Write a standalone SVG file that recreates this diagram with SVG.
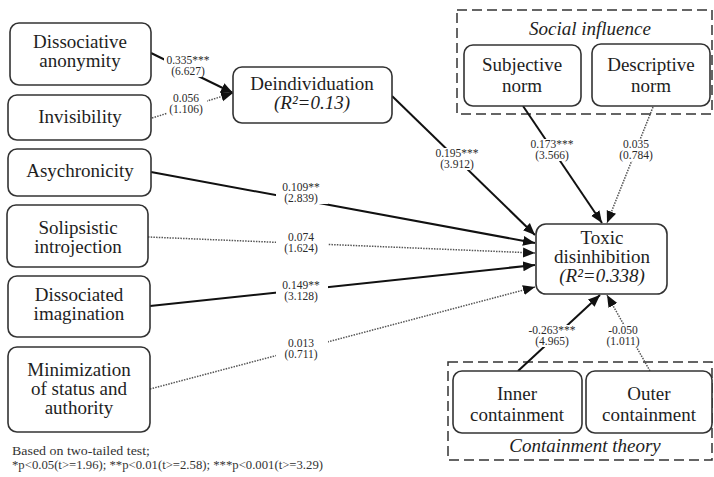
<svg xmlns="http://www.w3.org/2000/svg" width="714" height="477" viewBox="0 0 714 477" font-family="'Liberation Serif', 'Times New Roman', serif">
  <style>
    text { font-family: "Liberation Serif", "Times New Roman", serif; }
    .box { fill: #ffffff; stroke: #333333; stroke-width: 1.6; }
    .group { fill: none; stroke: #333333; stroke-width: 1.5; stroke-dasharray: 10 5; }
    .lbl { font-size: 19px; fill: #1e1e1e; text-anchor: middle; }
    .it { font-style: italic; }
    .solid { stroke: #111111; stroke-width: 2; fill: none; marker-end: url(#head); }
    .dot { stroke: #555555; stroke-width: 1.5; stroke-dasharray: 1.5 1.2; fill: none; marker-end: url(#head); }
    .coef { font-size: 11.5px; fill: #2a2a2a; text-anchor: middle; }
    .bg { fill: #ffffff; }
    .note { font-size: 11.5px; fill: #333333; }
  </style>
  <defs>
    <marker id="head" markerUnits="userSpaceOnUse" markerWidth="13" markerHeight="11" refX="12" refY="5.5" orient="auto">
      <path d="M0,0.5 L12,5.5 L0,10.5 Z" fill="#111111"/>
    </marker>
  </defs>

  <rect width="714" height="477" fill="#ffffff"/>

  <!-- construct groups -->
  <g id="social-influence">
    <rect class="group" x="457" y="10" width="255" height="104"/>
    <text class="lbl it" x="590" y="35">Social influence</text>
  </g>
  <g id="containment-theory">
    <rect class="group" x="448" y="362" width="264" height="98"/>
    <text class="lbl it" x="585" y="452">Containment theory</text>
  </g>

  <!-- paths -->
  <g id="connectors">
    <line class="solid" x1="151" y1="53" x2="233" y2="93"/>
    <line class="dot" x1="152" y1="118" x2="233" y2="93"/>
    <line class="solid" x1="392" y1="96" x2="535" y2="235"/>
    <line class="solid" x1="523" y1="106" x2="602" y2="223"/>
    <line class="dot" x1="653" y1="107" x2="607" y2="223"/>
    <line class="solid" x1="151" y1="172" x2="535" y2="243"/>
    <line class="dot" x1="148" y1="237" x2="535" y2="253"/>
    <line class="solid" x1="150" y1="306" x2="535" y2="265"/>
    <line class="dot" x1="150" y1="389" x2="535" y2="287"/>
    <line class="solid" x1="518" y1="371" x2="600" y2="295"/>
    <line class="dot" x1="650" y1="371" x2="607" y2="295"/>

    <!-- path coefficients (t values) -->
    <rect class="bg" x="164" y="55" width="50" height="22"/>
    <text class="coef" x="188" y="64">0.335***</text>
    <text class="coef" x="188" y="74.5">(6.627)</text>

    <rect class="bg" x="167" y="93" width="40" height="22"/>
    <text class="coef" x="186" y="102">0.056</text>
    <text class="coef" x="186" y="112.5">(1.106)</text>

    <rect class="bg" x="432" y="148" width="50" height="22"/>
    <text class="coef" x="457" y="157">0.195***</text>
    <text class="coef" x="457" y="167.5">(3.912)</text>

    <rect class="bg" x="527" y="139" width="50" height="22"/>
    <text class="coef" x="552" y="148">0.173***</text>
    <text class="coef" x="552" y="158.5">(3.566)</text>

    <rect class="bg" x="617" y="139" width="38" height="22"/>
    <text class="coef" x="636" y="148">0.035</text>
    <text class="coef" x="636" y="158.5">(0.784)</text>

    <rect class="bg" x="276" y="182" width="52" height="22"/>
    <text class="coef" x="301" y="191">0.109**</text>
    <text class="coef" x="301" y="201.5">(2.839)</text>

    <rect class="bg" x="276" y="232" width="52" height="22"/>
    <text class="coef" x="301" y="241">0.074</text>
    <text class="coef" x="301" y="251.5">(1.624)</text>

    <rect class="bg" x="276" y="280" width="52" height="22"/>
    <text class="coef" x="301" y="289">0.149**</text>
    <text class="coef" x="301" y="299.5">(3.128)</text>

    <rect class="bg" x="276" y="338" width="52" height="22"/>
    <text class="coef" x="301" y="347">0.013</text>
    <text class="coef" x="301" y="357.5">(0.711)</text>

    <rect class="bg" x="524" y="325" width="56" height="22"/>
    <text class="coef" x="552" y="334">-0.263***</text>
    <text class="coef" x="552" y="344.5">(4.965)</text>

    <rect class="bg" x="603" y="325" width="40" height="22"/>
    <text class="coef" x="623" y="334">-0.050</text>
    <text class="coef" x="623" y="344.5">(1.011)</text>
  </g>

  <!-- constructs -->
  <g id="dissociative-anonymity">
    <rect class="box" x="10" y="23" width="141" height="62" rx="9"/>
    <text class="lbl" x="80" y="48">Dissociative</text>
    <text class="lbl" x="80" y="67">anonymity</text>
  </g>
  <g id="invisibility">
    <rect class="box" x="8" y="95" width="143" height="45" rx="9"/>
    <text class="lbl" x="80" y="123">Invisibility</text>
  </g>
  <g id="asychronicity">
    <rect class="box" x="8" y="149" width="143" height="47" rx="9"/>
    <text class="lbl" x="80" y="177">Asychronicity</text>
  </g>
  <g id="solipsistic-introjection">
    <rect class="box" x="7" y="205" width="141" height="62" rx="9"/>
    <text class="lbl" x="78" y="234">Solipsistic</text>
    <text class="lbl" x="78" y="253">introjection</text>
  </g>
  <g id="dissociated-imagination">
    <rect class="box" x="8" y="276" width="142" height="61" rx="9"/>
    <text class="lbl" x="79" y="301">Dissociated</text>
    <text class="lbl" x="79" y="320">imagination</text>
  </g>
  <g id="minimization">
    <rect class="box" x="8" y="347" width="142" height="85" rx="9"/>
    <text class="lbl" x="79" y="376">Minimization</text>
    <text class="lbl" x="79" y="395">of status and</text>
    <text class="lbl" x="79" y="414">authority</text>
  </g>
  <g id="deindividuation">
    <rect class="box" x="233" y="67" width="159" height="56" rx="9"/>
    <text class="lbl" x="312" y="90">Deindividuation</text>
    <text class="lbl it" x="312" y="109">(R²=0.13)</text>
  </g>
  <g id="subjective-norm">
    <rect class="box" x="464" y="45" width="117" height="61" rx="9"/>
    <text class="lbl" x="522" y="71">Subjective</text>
    <text class="lbl" x="522" y="92">norm</text>
  </g>
  <g id="descriptive-norm">
    <rect class="box" x="592" y="44" width="118" height="62" rx="9"/>
    <text class="lbl" x="651" y="71">Descriptive</text>
    <text class="lbl" x="651" y="92">norm</text>
  </g>
  <g id="toxic-disinhibition">
    <rect class="box" x="536" y="224" width="131" height="70" rx="10"/>
    <text class="lbl" x="602" y="244">Toxic</text>
    <text class="lbl" x="602" y="263">disinhibition</text>
    <text class="lbl it" x="602" y="282">(R²=0.338)</text>
  </g>
  <g id="inner-containment">
    <rect class="box" x="453" y="371" width="129" height="62" rx="9"/>
    <text class="lbl" x="517" y="400">Inner</text>
    <text class="lbl" x="517" y="421">containment</text>
  </g>
  <g id="outer-containment">
    <rect class="box" x="586" y="371" width="126" height="62" rx="9"/>
    <text class="lbl" x="649" y="400">Outer</text>
    <text class="lbl" x="649" y="421">containment</text>
  </g>

  <!-- significance note -->
  <g id="note">
    <text class="note" x="12" y="455" textLength="138" lengthAdjust="spacingAndGlyphs">Based on two-tailed test;</text>
    <text class="note" x="12" y="469" textLength="311" lengthAdjust="spacingAndGlyphs">*p&lt;0.05(t&gt;=1.96); **p&lt;0.01(t&gt;=2.58); ***p&lt;0.001(t&gt;=3.29)</text>
  </g>
</svg>
